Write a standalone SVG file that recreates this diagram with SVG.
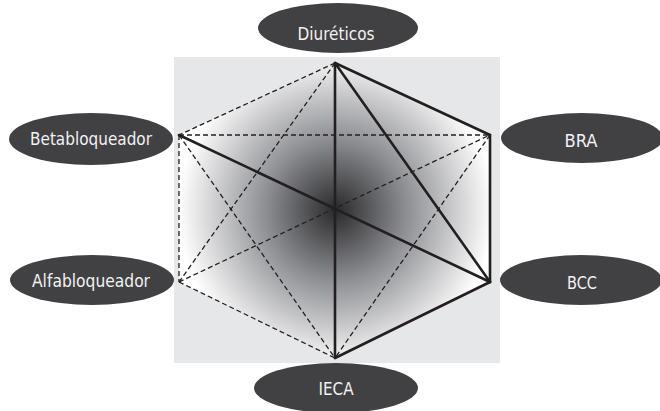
<svg xmlns="http://www.w3.org/2000/svg" width="660" height="411" viewBox="0 0 660 411">
<style>
.node ellipse{fill:#414042}
.node text{fill:#f2f2f2;font-family:"Liberation Sans Narrow","DejaVu Sans Condensed","Liberation Sans",sans-serif;font-size:18px;text-anchor:middle}
.solid{stroke:#231f20;stroke-width:2.6;fill:none;stroke-linecap:round}
.dash{stroke:#231f20;stroke-width:1.3;fill:none;stroke-dasharray:5 3}
</style>
<defs>
<radialGradient id="g" gradientUnits="userSpaceOnUse" cx="336" cy="210" r="158">
<stop offset="0" stop-color="#29292b"/>
<stop offset="0.45" stop-color="#8e8f93"/>
<stop offset="1" stop-color="#ffffff"/>
</radialGradient>
</defs>
<rect x="174" y="57" width="326" height="306" fill="#e6e7e8"/>
<polygon points="335,63 490,135 490,282 335,358 179,282 179,135" fill="url(#g)"/>
<g id="connectors">
<line class="dash" x1="335" y1="63" x2="179" y2="135"/>
<line class="dash" x1="335" y1="63" x2="179" y2="282"/>
<line class="dash" x1="179" y1="135" x2="490" y2="135"/>
<line class="dash" x1="179" y1="135" x2="179" y2="282"/>
<line class="dash" x1="179" y1="135" x2="335" y2="358"/>
<line class="dash" x1="179" y1="282" x2="490" y2="135"/>
<line class="dash" x1="179" y1="282" x2="335" y2="358"/>
<line class="dash" x1="490" y1="135" x2="335" y2="358"/>
<line class="solid" x1="335" y1="63" x2="490" y2="135"/>
<line class="solid" x1="335" y1="63" x2="490" y2="282"/>
<line class="solid" x1="335" y1="63" x2="335" y2="358"/>
<line class="solid" x1="490" y1="135" x2="490" y2="282"/>
<line class="solid" x1="490" y1="282" x2="335" y2="358"/>
<line class="solid" x1="179" y1="135" x2="490" y2="282"/>
</g>
<g id="diureticos" class="node"><ellipse cx="338" cy="28" rx="80" ry="25"/><text x="336" y="40" textLength="77" lengthAdjust="spacingAndGlyphs">Diuréticos</text></g>
<g id="betabloqueador" class="node"><ellipse cx="91" cy="139" rx="82" ry="26"/><text x="91" y="145" textLength="122" lengthAdjust="spacingAndGlyphs">Betabloqueador</text></g>
<g id="bra" class="node"><ellipse cx="582" cy="138" rx="81" ry="25"/><text x="581" y="147" textLength="33" lengthAdjust="spacingAndGlyphs">BRA</text></g>
<g id="bcc" class="node"><ellipse cx="581" cy="280" rx="81" ry="25"/><text x="582" y="289" textLength="30" lengthAdjust="spacingAndGlyphs">BCC</text></g>
<g id="alfabloqueador" class="node"><ellipse cx="92" cy="280" rx="82" ry="25"/><text x="91" y="287" textLength="118" lengthAdjust="spacingAndGlyphs">Alfabloqueador</text></g>
<g id="ieca" class="node"><ellipse cx="336" cy="388" rx="82" ry="25"/><text x="336" y="395" textLength="35" lengthAdjust="spacingAndGlyphs">IECA</text></g>
</svg>
